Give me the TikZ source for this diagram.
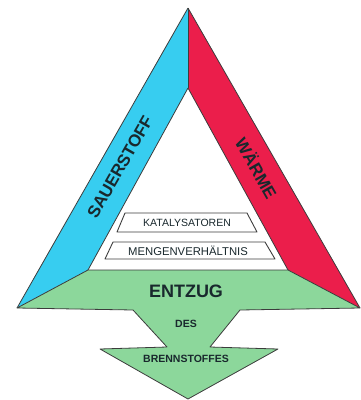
\documentclass[tikz,border=0pt]{standalone}
\usepackage{fontspec}
\setmainfont{Liberation Sans}
\definecolor{fblue}{RGB}{55,205,240}
\definecolor{fred}{RGB}{235,30,75}
\definecolor{fgreen}{RGB}{140,215,155}
\definecolor{ftext}{RGB}{25,40,45}
\definecolor{fline}{RGB}{60,60,60}
\tikzset{
  band/.style={draw=fline, line width=0.8pt, line join=round},
  lbl/.style={text=ftext, font=\bfseries, inner sep=0pt},
  boxlbl/.style={text=ftext, inner sep=0pt},
  whitebox/.style={draw=fline, line width=0.9pt, fill=white, line join=round}
}
\begin{document}
\begin{tikzpicture}[x=1pt,y=-1pt]
\useasboundingbox (0,0) rectangle (361,400);
% blue band
\fill[fblue] (188,8) -- (188,88) -- (88,270) -- (17,308) -- cycle;
\draw[band] (188,8) -- (17,308);
\draw[band] (188,88) -- (88,270);
% red band
\fill[fred] (188,8) -- (360,308) -- (288,270) -- (188,88) -- cycle;
\draw[band] (188,8) -- (360,308);
\draw[band] (188,88) -- (288,270);
\draw[band] (188,8) -- (188,88);
% green base with arrow
\draw[band, fill=fgreen] (88,270) -- (288,270) -- (360,308) -- (240,310) -- (210,347)
  -- (278,349) -- (188,399) -- (100,349) -- (167,347) -- (133,310) -- (17,308) -- cycle;
% white boxes
\draw[whitebox] (125,213) -- (247,213) -- (257,232) -- (117,232) -- cycle;
\draw[whitebox] (113,242) -- (265,242) -- (275,259) -- (105,259) -- cycle;
% labels
\node[lbl, font=\bfseries\fontsize{17}{17}\selectfont, rotate=60.2] (sauer) at (120,167) {SAUERSTOFF};
\node[lbl, font=\bfseries\fontsize{17}{17}\selectfont, rotate=-60.2] (waerme) at (257,168) {WÄRME};
\node[lbl, font=\bfseries\fontsize{18}{18}\selectfont] (entzug) at (186,291) {ENTZUG};
\node[lbl, font=\bfseries\fontsize{10.5}{10.5}\selectfont] (des) at (186,324) {DES};
\node[lbl, font=\bfseries\fontsize{10.5}{10.5}\selectfont] (brenn) at (186,359) {BRENNSTOFFES};
\node[boxlbl, font=\fontsize{10.5}{10.5}\selectfont] (kata) at (187,222.5) {KATALYSATOREN};
\node[boxlbl, font=\fontsize{11.3}{11.3}\selectfont] (menge) at (188,250.5) {MENGENVERHÄLTNIS};
\end{tikzpicture}
\end{document}
